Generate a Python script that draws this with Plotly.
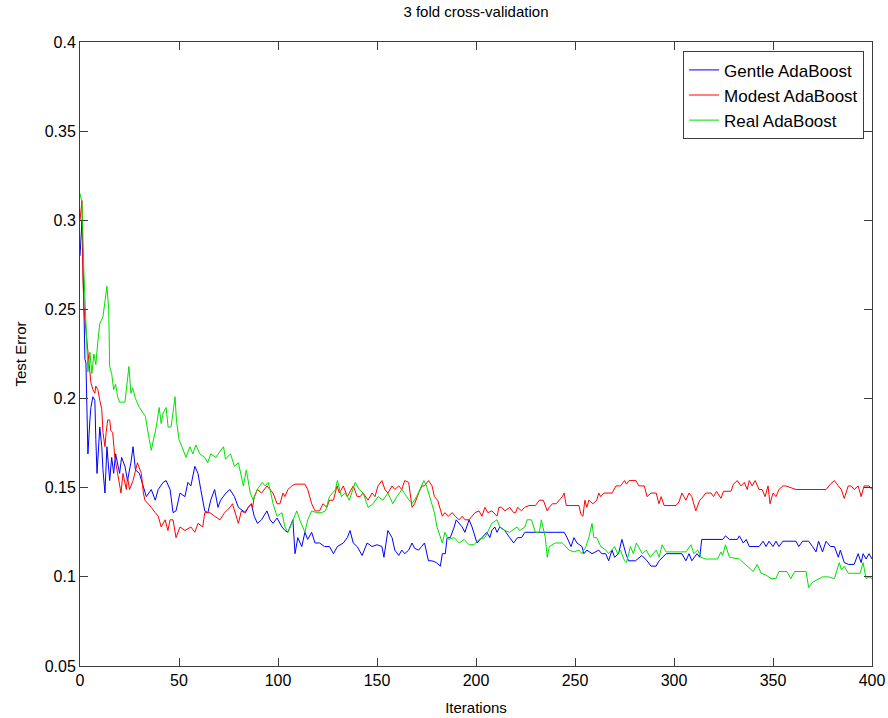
import plotly.graph_objects as go

# Test error vs. boosting iterations, 3-fold cross-validation

gentle_iter = [0, 1, 1.5, 2, 2.5, 3, 3.5, 4, 5, 5.5, 6.5, 7.5, 8, 8.6, 10, 11, 11.6, 12.6, 13.6, 15,
               16, 17, 18, 20, 21, 22.7, 24, 25.7, 26.8, 28, 30, 32, 33.5, 36, 38, 39.5, 42, 43.5, 45.5, 47,
               48.5, 50.5, 53, 54.5, 56, 58, 59.6, 61, 63, 64.6, 66, 68, 69.7, 71, 73.7, 75.7, 78, 80, 82, 83.5,
               85, 86.5, 88, 89.6, 91.7, 94.4, 96, 97.5, 99.5, 102, 103.5, 105, 107.5, 108.6, 110, 112, 113.6, 115, 117, 118.7,
               121, 123.5, 126, 128, 130, 133, 135, 136.4, 138, 140, 142.5, 145, 147.5, 150, 152.5, 153.5, 155.5, 157.6, 159, 161,
               162.5, 164, 166, 167.7, 169, 171, 172.5, 174, 176, 177.8, 180, 182, 183, 184.5, 185.4, 187, 189, 190, 191.5, 193,
               194.4, 196.5, 198, 200.5, 203, 205.5, 207, 208, 209.5, 210.6, 212, 214.5, 217, 219, 221, 223, 224.7, 244.5, 246, 248,
               249.5, 251, 253.5, 254.5, 256, 258.6, 262, 263.5, 265.5, 267, 268.7, 270, 272, 273.7, 275.7, 277, 280.5, 283.8, 286.4, 288.4,
               291, 292.5, 296, 304, 306, 307.6, 309, 311.6, 313, 314, 324.7, 326, 328, 332, 333, 335, 336.5, 338, 343, 345,
               346.5, 348, 350, 351.5, 353, 355, 361.6, 363, 365, 368, 370, 371.7, 373, 375, 376.8, 379, 381, 383, 384, 386,
               388, 391, 393, 394.5, 395.5, 397, 398.5, 400]
gentle_err = [0.280, 0.300, 0.276, 0.244, 0.222, 0.220, 0.192, 0.169, 0.188, 0.195, 0.201, 0.199, 0.177, 0.158, 0.184, 0.173, 0.160, 0.147, 0.173, 0.154,
              0.167, 0.158, 0.169, 0.158, 0.167, 0.162, 0.154, 0.164, 0.173, 0.160, 0.158, 0.151, 0.145, 0.149, 0.143, 0.149, 0.153, 0.154, 0.149, 0.136,
              0.137, 0.147, 0.145, 0.153, 0.151, 0.162, 0.158, 0.149, 0.137, 0.136, 0.143, 0.149, 0.139, 0.143, 0.147, 0.149, 0.145, 0.139, 0.137, 0.136,
              0.139, 0.141, 0.134, 0.130, 0.132, 0.137, 0.132, 0.130, 0.133, 0.128, 0.126, 0.125, 0.132, 0.113, 0.122, 0.117, 0.125, 0.121, 0.125, 0.119,
              0.119, 0.117, 0.117, 0.113, 0.117, 0.119, 0.122, 0.126, 0.119, 0.117, 0.112, 0.119, 0.117, 0.118, 0.117, 0.111, 0.126, 0.122, 0.115, 0.112,
              0.115, 0.113, 0.115, 0.119, 0.116, 0.115, 0.117, 0.119, 0.109, 0.109, 0.108, 0.106, 0.113, 0.113, 0.122, 0.122, 0.128, 0.132, 0.130, 0.128,
              0.125, 0.132, 0.128, 0.119, 0.122, 0.125, 0.122, 0.126, 0.128, 0.125, 0.128, 0.126, 0.122, 0.119, 0.122, 0.122, 0.125, 0.125, 0.122, 0.117,
              0.122, 0.119, 0.117, 0.113, 0.115, 0.113, 0.115, 0.113, 0.113, 0.109, 0.115, 0.111, 0.113, 0.121, 0.113, 0.109, 0.109, 0.112, 0.109, 0.106,
              0.106, 0.109, 0.113, 0.113, 0.109, 0.113, 0.109, 0.113, 0.111, 0.121, 0.121, 0.123, 0.121, 0.121, 0.123, 0.119, 0.121, 0.117, 0.117, 0.120,
              0.117, 0.120, 0.117, 0.120, 0.117, 0.120, 0.120, 0.117, 0.120, 0.120, 0.117, 0.114, 0.120, 0.114, 0.120, 0.117, 0.117, 0.111, 0.115, 0.108,
              0.107, 0.107, 0.113, 0.108, 0.113, 0.110, 0.113, 0.110]

modest_iter = [0, 1, 1.5, 2, 3, 4, 5, 5.5, 6.5, 7.5, 8, 9, 10, 11, 11.6, 12.6, 13.2, 14, 15, 15.6,
               16.5, 17.6, 19, 20, 20.7, 21.7, 22.5, 23.4, 24, 25, 26.8, 28.4, 29, 31, 32, 32.8, 34.5, 36, 38, 39.5,
               41, 43, 44.4, 45.5, 47, 48.5, 50.5, 53, 56, 58, 59.6, 62, 63, 65.6, 68, 70.7, 73, 75.8, 77, 78,
               80, 81.5, 83, 85, 86.5, 87.2, 88, 89.6, 91.7, 94.4, 96, 97.5, 99.5, 101, 102.5, 103.5, 105, 107, 108.6, 112,
               113.6, 115, 117, 118.7, 121, 122.7, 124.7, 126, 128, 129.8, 131, 133, 135, 136, 138, 140, 141.5, 143, 145.5, 147.5,
               149, 150.5, 152.5, 154, 155.5, 157.6, 159, 161, 162.5, 164, 166, 167.7, 169, 171, 172.7, 174, 176, 177.8, 179, 180.6,
               183, 184.3, 186, 188, 189.5, 191.5, 193, 194.4, 196.5, 198, 199.5, 201.5, 203, 204.5, 206, 208, 210.6, 211.6, 213, 214.6,
               217, 219, 220, 221, 223, 224.5, 226.8, 230, 232, 234, 236, 237, 238.6, 240.5, 242, 243.6, 244.5, 245.6, 252, 253,
               254, 255, 256, 257, 259, 261, 262, 263, 264.6, 268.7, 270.7, 273, 275, 276, 277.3, 280.8, 282.3, 285, 286.4, 288.4,
               291, 292.4, 293.5, 295, 301, 302.5, 304, 306, 307.6, 309, 311, 313, 314, 316, 318.7, 320, 321.5, 323.7, 325, 328.8,
               330, 332, 333.8, 335.5, 337, 338, 339.5, 341, 343, 344.5, 346, 347.5, 348.5, 350, 351.5, 353, 355, 356.5, 361.6, 376.8,
               379, 381, 383, 384.5, 386, 388, 389.5, 391, 393, 394.5, 396, 398.5, 400]
modest_err = [0.300, 0.311, 0.267, 0.251, 0.238, 0.227, 0.218, 0.209, 0.205, 0.203, 0.207, 0.205, 0.199, 0.194, 0.181, 0.173, 0.181, 0.188, 0.188, 0.182,
              0.181, 0.167, 0.158, 0.151, 0.147, 0.158, 0.154, 0.149, 0.156, 0.149, 0.154, 0.162, 0.164, 0.158, 0.147, 0.143, 0.141, 0.139, 0.136, 0.134,
              0.128, 0.132, 0.126, 0.132, 0.132, 0.122, 0.128, 0.126, 0.128, 0.125, 0.130, 0.128, 0.136, 0.136, 0.134, 0.132, 0.136, 0.139, 0.141, 0.137,
              0.130, 0.137, 0.136, 0.139, 0.141, 0.139, 0.145, 0.149, 0.147, 0.151, 0.149, 0.147, 0.141, 0.141, 0.147, 0.145, 0.149, 0.151, 0.152, 0.152,
              0.152, 0.149, 0.141, 0.137, 0.137, 0.141, 0.139, 0.143, 0.143, 0.151, 0.147, 0.151, 0.145, 0.147, 0.151, 0.145, 0.145, 0.147, 0.143, 0.147,
              0.145, 0.151, 0.154, 0.149, 0.147, 0.151, 0.149, 0.151, 0.149, 0.154, 0.153, 0.139, 0.141, 0.147, 0.151, 0.151, 0.154, 0.151, 0.145, 0.143,
              0.134, 0.136, 0.134, 0.136, 0.134, 0.132, 0.134, 0.132, 0.132, 0.134, 0.136, 0.137, 0.134, 0.139, 0.136, 0.137, 0.134, 0.139, 0.139, 0.137,
              0.139, 0.136, 0.136, 0.139, 0.137, 0.139, 0.140, 0.140, 0.143, 0.143, 0.137, 0.139, 0.141, 0.141, 0.143, 0.145, 0.147, 0.140, 0.140, 0.135,
              0.134, 0.143, 0.139, 0.143, 0.141, 0.143, 0.147, 0.145, 0.147, 0.147, 0.151, 0.151, 0.154, 0.152, 0.154, 0.154, 0.151, 0.151, 0.145, 0.147,
              0.147, 0.141, 0.145, 0.140, 0.140, 0.142, 0.147, 0.143, 0.147, 0.145, 0.137, 0.143, 0.144, 0.147, 0.147, 0.145, 0.148, 0.144, 0.148, 0.148,
              0.152, 0.154, 0.151, 0.153, 0.149, 0.154, 0.151, 0.154, 0.149, 0.149, 0.145, 0.151, 0.141, 0.147, 0.145, 0.149, 0.151, 0.151, 0.149, 0.149,
              0.152, 0.154, 0.151, 0.149, 0.144, 0.151, 0.151, 0.149, 0.151, 0.145, 0.151, 0.151, 0.149]

real_iter = [0, 1, 2, 3, 4, 5, 6, 7, 8, 9, 10, 11.6, 13.6, 14.5, 15, 16, 17, 18, 19, 20,
             22.7, 24.7, 25.7, 26.6, 28, 30, 33, 35, 36, 38.5, 40, 41, 42, 43.5, 44.5, 46, 48, 48.7, 50, 51.5,
             53.5, 55.5, 57, 58.5, 60.5, 63, 64.5, 66, 68.5, 72.5, 73.5, 76, 78, 80, 81, 82.5, 84, 86, 87.5, 89.5,
             92, 93.5, 95, 96, 97.5, 99.5, 102, 103.5, 105, 107.5, 109.5, 111, 113.6, 115, 117, 119.5, 122, 124, 126, 129,
             130, 132, 134, 136, 139, 141, 143, 145.5, 148, 150.5, 153, 155.5, 158, 160, 162.6, 165, 167.7, 170, 171.7, 173.7,
             175, 177, 179, 180.3, 183, 184.3, 186, 189, 191.5, 194, 196.5, 199, 201.5, 204.5, 208, 210.6, 212, 214.6, 217, 220.7,
             222, 224.7, 225.8, 228, 230, 232, 233, 235, 236, 237, 240, 243.6, 247, 249.5, 252, 253.5, 255.5, 257, 258.6, 259.5,
             261, 263, 265.6, 267, 270, 271.5, 273, 275, 276, 278, 279.5, 281, 284, 286, 288, 291, 292.5, 294, 296, 301,
             306, 308.6, 310, 312, 313.6, 316, 322, 323.7, 324.5, 326, 328, 333, 336, 340, 342, 344, 346.5, 349, 351.5, 353,
             357, 359, 361, 366.7, 368, 370, 375, 378, 381, 383.5, 384.5, 386, 388, 391, 394, 395.5, 396.5, 397, 398.5, 400]
real_err = [0.315, 0.310, 0.270, 0.240, 0.215, 0.226, 0.214, 0.225, 0.219, 0.232, 0.242, 0.246, 0.263, 0.250, 0.218, 0.214, 0.205, 0.208, 0.201, 0.198,
            0.198, 0.218, 0.203, 0.206, 0.200, 0.195, 0.190, 0.177, 0.171, 0.184, 0.195, 0.186, 0.192, 0.195, 0.184, 0.184, 0.201, 0.188, 0.177, 0.173,
            0.167, 0.173, 0.169, 0.174, 0.169, 0.167, 0.164, 0.169, 0.167, 0.173, 0.166, 0.169, 0.162, 0.164, 0.158, 0.151, 0.160, 0.147, 0.143, 0.149,
            0.153, 0.151, 0.153, 0.149, 0.141, 0.134, 0.136, 0.128, 0.125, 0.132, 0.137, 0.132, 0.125, 0.132, 0.137, 0.136, 0.136, 0.137, 0.145, 0.149,
            0.154, 0.145, 0.147, 0.143, 0.153, 0.149, 0.147, 0.139, 0.141, 0.145, 0.143, 0.147, 0.141, 0.145, 0.149, 0.145, 0.141, 0.145, 0.149, 0.154,
            0.151, 0.143, 0.136, 0.128, 0.119, 0.125, 0.121, 0.122, 0.119, 0.121, 0.118, 0.118, 0.121, 0.122, 0.130, 0.132, 0.128, 0.126, 0.125, 0.128,
            0.126, 0.128, 0.132, 0.132, 0.125, 0.125, 0.132, 0.122, 0.111, 0.117, 0.119, 0.119, 0.115, 0.114, 0.115, 0.113, 0.117, 0.122, 0.130, 0.122,
            0.122, 0.117, 0.115, 0.113, 0.117, 0.113, 0.115, 0.109, 0.108, 0.117, 0.113, 0.119, 0.113, 0.115, 0.111, 0.115, 0.111, 0.118, 0.114, 0.114,
            0.114, 0.118, 0.113, 0.115, 0.111, 0.110, 0.110, 0.114, 0.112, 0.118, 0.111, 0.110, 0.107, 0.103, 0.107, 0.102, 0.101, 0.099, 0.099, 0.103,
            0.103, 0.099, 0.103, 0.103, 0.094, 0.097, 0.100, 0.100, 0.099, 0.108, 0.104, 0.106, 0.102, 0.102, 0.102, 0.108, 0.100, 0.099, 0.100, 0.099]

series = [
    ("Gentle AdaBoost", gentle_iter, gentle_err, "#0000ff"),
    ("Modest AdaBoost", modest_iter, modest_err, "#ff0000"),
    ("Real AdaBoost", real_iter, real_err, "#00e000"),
]

x_ticks = [0, 50, 100, 150, 200, 250, 300, 350, 400]
y_ticks = [0.05, 0.1, 0.15, 0.2, 0.25, 0.3, 0.35, 0.4]
y_tick_text = ["0.05", "0.1", "0.15", "0.2", "0.25", "0.3", "0.35", "0.4"]

FONT = "Liberation Sans, Arial, Helvetica, sans-serif"
AXIS_COLOR = "#3c3c3c"

fig = go.Figure()
for name, xs, ys, color in series:
    fig.add_trace(go.Scatter(x=xs, y=ys, mode="lines", name=name,
                             line=dict(color=color, width=1)))

axis_common = dict(
    showgrid=False, zeroline=False, showline=True, linecolor=AXIS_COLOR, linewidth=1,
    mirror="ticks", ticks="inside", ticklen=8, tickcolor=AXIS_COLOR, tickwidth=1,
    tickfont=dict(family=FONT, size=16, color="#000000"), automargin=False,
)

fig.update_layout(
    width=888, height=718,
    paper_bgcolor="white", plot_bgcolor="white",
    margin=dict(l=80, r=16, t=42, b=52),
    title=dict(text="3 fold cross-validation", x=0.536, xanchor="center", y=0.983, yanchor="middle",
               font=dict(family=FONT, size=15, color="#000000")),
    xaxis=dict(range=[0, 400], tickvals=x_ticks, ticktext=[str(v) for v in x_ticks],
               title=dict(text="Iterations", font=dict(family=FONT, size=15, color="#000000"), standoff=14),
               **axis_common),
    yaxis=dict(range=[0.05, 0.4], tickvals=y_ticks, ticktext=y_tick_text,
               title=dict(text="Test Error", font=dict(family=FONT, size=15, color="#000000"), standoff=14),
               **axis_common),
    legend=dict(x=0.99, xanchor="right", y=0.985, yanchor="top",
                bgcolor="white", bordercolor=AXIS_COLOR, borderwidth=1,
                font=dict(family=FONT, size=17, color="#000000"),
                tracegroupgap=0, itemwidth=30),
    showlegend=True,
)

fig.write_html("out.html")
